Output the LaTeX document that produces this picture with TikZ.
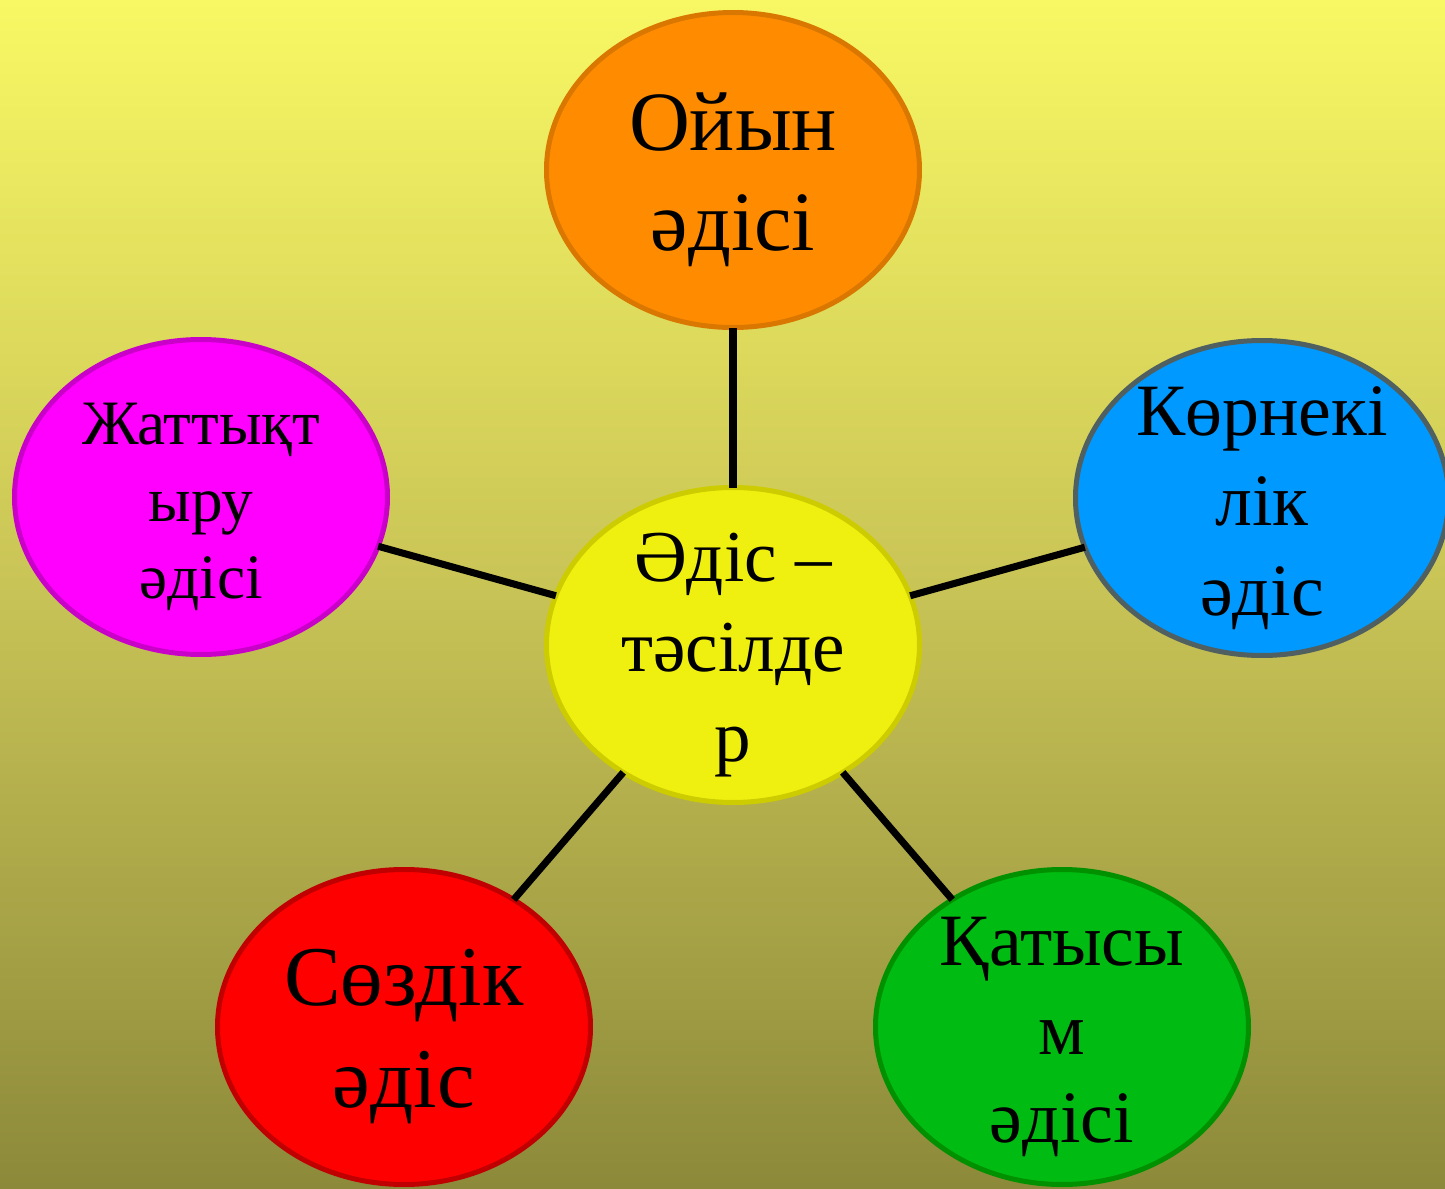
\documentclass[tikz,border=0pt]{standalone}
\usepackage{fontspec}
\setmainfont{Liberation Serif}
\usetikzlibrary{shapes.geometric}

\definecolor{bgtop}{RGB}{248,248,100}
\definecolor{bgmid}{RGB}{200,195,86}
\definecolor{bgbot}{RGB}{140,137,58}

\begin{document}
\begin{tikzpicture}
          \tikzset{MethodStyle/.style = {
              shape = ellipse,
              inner sep = 0pt,
              outer sep = 0pt,
              minimum width = 3.73cm,
              minimum height = 3.15cm,
              line width = 0.05cm,
              draw},
            MethodText/.style = {align = center, yshift = -0.1cm},
            Spoke/.style = {line width = 2pt, black}}
          \useasboundingbox (0,0) rectangle (14.45,11.88);
          \shade[top color=bgtop, bottom color=bgbot, middle color=bgmid]
            (0,0) rectangle (14.45,11.88);
          %% centre
          \node[MethodStyle, fill={rgb,255:red,240;green,240;blue,16},
            draw={rgb,255:red,204;green,204;blue,0},
            label={[MethodText, font=\fontsize{20.8}{25.6}\selectfont]center:{Әдіс –\\тәсілде\\р}}]
            (adis) at (7.33,5.43) {};
          %% outer methods
          \node[MethodStyle, fill={rgb,255:red,255;green,140;blue,0},
            draw={rgb,255:red,217;green,119;blue,0},
            label={[MethodText, font=\fontsize{24}{28.4}\selectfont]center:{Ойын\\әдісі}}]
            (ojyn) at (7.33,10.18) {};
          \node[MethodStyle, fill={rgb,255:red,255;green,0;blue,255},
            draw={rgb,255:red,200;green,0;blue,200},
            label={[MethodText, font=\fontsize{18}{21.8}\selectfont]center:{Жаттықт\\ыру\\әдісі}}]
            (zhattyk) at (2.01,6.91) {};
          \node[MethodStyle, fill={rgb,255:red,0;green,153;blue,255},
            draw={rgb,255:red,80;green,95;blue,95},
            label={[MethodText, font=\fontsize{21}{25.6}\selectfont]center:{Көрнекі\\лік\\әдіс}}]
            (korneki) at (12.62,6.90) {};
          \node[MethodStyle, fill={rgb,255:red,255;green,0;blue,0},
            draw={rgb,255:red,192;green,0;blue,0},
            label={[MethodText, font=\fontsize{24.2}{29}\selectfont]center:{Сөздік\\әдіс}}]
            (sozdik) at (4.04,1.61) {};
          \node[MethodStyle, fill={rgb,255:red,0;green,187;blue,17},
            draw={rgb,255:red,0;green,144;blue,0},
            label={[MethodText, font=\fontsize{21}{25.3}\selectfont]center:{Қатысы\\м\\әдісі}}]
            (katysym) at (10.62,1.61) {};
          %% spokes
          \foreach \v in {ojyn,zhattyk,korneki,sozdik,katysym}{
            \draw[Spoke] (adis) -- (\v);}
\end{tikzpicture}
\end{document}
